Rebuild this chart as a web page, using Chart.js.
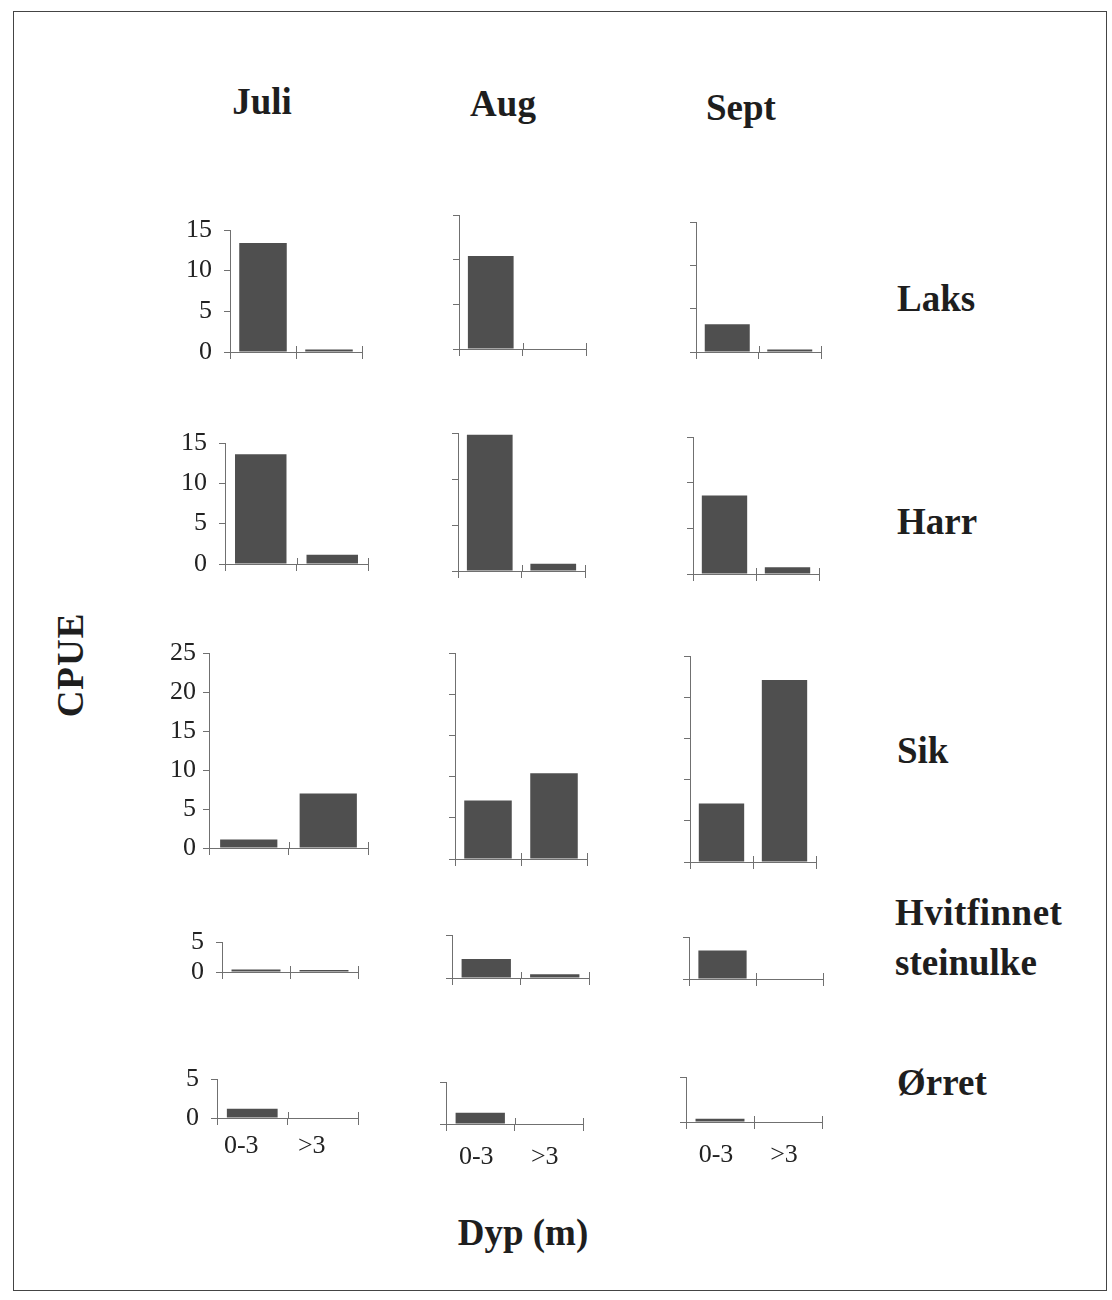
<!DOCTYPE html>
<html>
<head>
<meta charset="utf-8">
<script src="https://cdn.jsdelivr.net/npm/chart.js@4.4.0/dist/chart.umd.min.js"></script>
<style>
    body { margin: 0; background: #fff; }
    #page { position: relative; width: 1112px; height: 1300px; overflow: hidden; font-family: "Liberation Serif", "Times New Roman", serif; }
    .frame { position: absolute; left: 13px; top: 11px; width: 1092px; height: 1278px; border: 1.5px solid #444; }
    .lbl { position: absolute; font-weight: bold; font-size: 37px; color: #1e1e1e; white-space: nowrap; line-height: 1; }
    .c { transform: translate(-50%, -50%); }
    .l { transform: translate(0, -50%); }
    canvas.panel { position: absolute; }
</style>
</head>
<body>
<div id="page">
    <div class="frame"></div>
    <div class="lbl c" style="left:262px; top:101px;">Juli</div>
    <div class="lbl c" style="left:503px; top:103px;">Aug</div>
    <div class="lbl c" style="left:741px; top:107px;">Sept</div>
    <div class="lbl l" style="left:897px; top:298px;">Laks</div>
    <div class="lbl l" style="left:897px; top:521px;">Harr</div>
    <div class="lbl l" style="left:897px; top:750px;">Sik</div>
    <div class="lbl l" style="left:895px; top:912px; letter-spacing:0.5px;">Hvitfinnet</div>
    <div class="lbl l" style="left:895px; top:962px;">steinulke</div>
    <div class="lbl l" style="left:897px; top:1082px;">Ørret</div>
    <div class="lbl c" style="left:70px; top:665px; transform: translate(-50%, -50%) rotate(-90deg); letter-spacing:1px;">CPUE</div>
    <div class="lbl c" style="left:523px; top:1232px;">Dyp (m)</div>
</div>
<script>
// måneder (kolonner) og arter (rader)
const months = ['Juli', 'Aug', 'Sept'];
const species = ['Laks', 'Harr', 'Sik', 'Hvitfinnet steinulke', 'Ørret'];
const depths = ['0-3', '>3'];

// CPUE per måned: [0-3 m, >3 m]
const laks = [[13.4, 0.3], [10.4, 0], [3.2, 0.3]];
const harr = [[13.6, 1.15], [14.8, 0.8], [8.6, 0.75]];
const sik = [[1.1, 7.0], [7.1, 10.4], [7.1, 22.1]];
const steinulke = [[0.4, 0.35], [2.2, 0.45], [3.4, 0]];
const orret = [[1.2, 0], [1.35, 0], [0.35, 0]];

const yMax = [15, 15, 25, 5, 5];
const yStep = 5;

const allData = [laks, harr, sik, steinulke, orret];

// plassering av hvert diagram: [aksens x, topp y, null-linje y, høyre ende x]
const panelBox = [
    [[230, 230, 352, 362], [459, 215, 349, 586], [696, 222, 352, 821]],
    [[225, 443, 564, 368], [458, 433, 571, 585], [693, 437, 574, 819]],
    [[209, 653, 848, 368], [455, 653, 859, 587], [690, 656, 862, 816]],
    [[222, 942, 972, 358], [452, 935, 978, 589], [689, 937, 979, 823]],
    [[217, 1079, 1118, 358], [446, 1082, 1124, 583], [686, 1077, 1122, 822]]
];

const barColor = '#4f4f4f';
const axisColor = '#707070';
const PAD_T = 34, PAD_R = 6;

// små streker som krysser x-aksen (som i originalen)
const crossTicks = {
    id: 'crossTicks',
    afterDraw(chart) {
        const xs = chart.scales.x;
        const ctx = chart.ctx;
        const half = (xs.getPixelForTick(1) - xs.getPixelForTick(0)) / 2;
        ctx.save();
        ctx.strokeStyle = axisColor;
        ctx.lineWidth = 1;
        ctx.beginPath();
        for (let i = 0; i <= depths.length; i++) {
            const x = Math.round(xs.getPixelForTick(0) - half + i * 2 * half) + 0.5;
            if (i === 0) continue;
            ctx.moveTo(x, xs.top - 6);
            ctx.lineTo(x, xs.top);
        }
        ctx.stroke();
        ctx.restore();
    }
};

const page = document.getElementById('page');

allData.forEach((rowData, r) => {
    rowData.forEach((values, c) => {
        const [ax, top, zero, end] = panelBox[r][c];
        const yW = c === 0 ? 70 : 8;
        const xH = r === species.length - 1 ? 60 : 34;
        const canvas = document.createElement('canvas');
        canvas.className = 'panel';
        canvas.width = end - ax + yW + PAD_R;
        canvas.height = zero - top + PAD_T + xH;
        canvas.style.left = (ax - yW) + 'px';
        canvas.style.top = (top - PAD_T) + 'px';
        page.appendChild(canvas);

        new Chart(canvas.getContext('2d'), {
            type: 'bar',
            data: {
                labels: depths,
                datasets: [{
                    label: species[r] + ' ' + months[c],
                    data: values,
                    backgroundColor: barColor,
                    borderWidth: 0,
                    barPercentage: 0.72,
                    categoryPercentage: 1
                }]
            },
            options: {
                responsive: false,
                animation: false,
                devicePixelRatio: 1,
                layout: { padding: { top: PAD_T, right: PAD_R, left: 0, bottom: 0 } },
                plugins: { legend: { display: false }, tooltip: { enabled: false } },
                scales: {
                    x: {
                        offset: true,
                        grid: { offset: true, drawOnChartArea: false, tickLength: 7, color: axisColor, lineWidth: 1 },
                        border: { color: axisColor, width: 1 },
                        ticks: {
                            display: r === species.length - 1,
                            padding: c === 0 ? 6 : 11,
                            labelOffset: c === 0 ? -11 : -4,
                            color: '#222',
                            font: { family: 'Liberation Serif', size: 26 }
                        },
                        afterFit: (scale) => { scale.height = xH; }
                    },
                    y: {
                        min: 0,
                        max: yMax[r],
                        grid: { drawOnChartArea: false, tickLength: 6, color: axisColor, lineWidth: 1 },
                        border: { color: axisColor, width: 1 },
                        ticks: {
                            display: c === 0,
                            autoSkip: false,
                            stepSize: yStep,
                            padding: r === 2 ? 7 : 12,
                            color: '#222',
                            font: { family: 'Liberation Serif', size: 26 }
                        },
                        afterFit: (scale) => { scale.width = yW; }
                    }
                }
            },
            plugins: [crossTicks]
        });
    });
});
</script>
</body>
</html>
